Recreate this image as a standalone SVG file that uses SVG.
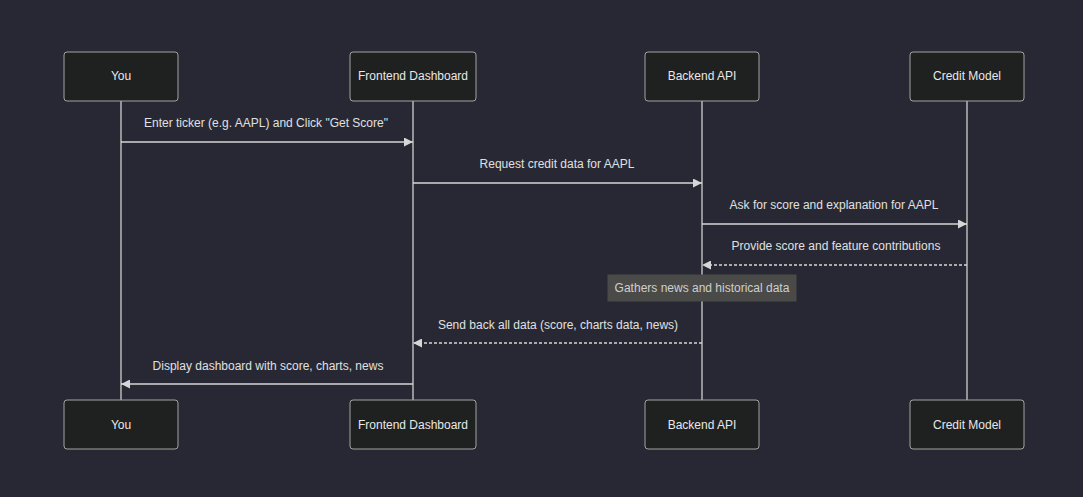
<svg xmlns="http://www.w3.org/2000/svg" width="1083" height="497" viewBox="0 0 1083 497">
<defs>
<style>
.bg{fill:#272833}
.actor rect{fill:#1f2020;stroke:#a3a3a3;stroke-width:1}
.actor text{fill:#e8e8e8;font-family:"Liberation Sans",Arial,sans-serif;font-size:12px;text-anchor:middle;dominant-baseline:central}
.life{stroke:#cfcfcf;stroke-width:1.3}
.msg{stroke:#d6d6d6;stroke-width:1.3;fill:none}
.dot{stroke-dasharray:3,2}
.lbl{fill:#e0e0e0;font-family:"Liberation Sans",Arial,sans-serif;font-size:12px;text-anchor:middle;dominant-baseline:central}
.note rect{fill:#4a4a48;stroke:#4a4a48}
.note text{fill:#cfcfcf;font-family:"Liberation Sans",Arial,sans-serif;font-size:12px;text-anchor:middle;dominant-baseline:central}
</style>
<marker id="ah" viewBox="0 0 10 10" refX="10" refY="5" markerWidth="9" markerHeight="9" markerUnits="userSpaceOnUse" orient="auto">
<path d="M0,0 L10,5 L0,10 z" fill="#d6d6d6"/>
</marker>
</defs>
<rect class="bg" x="0" y="0" width="1083" height="497"/>
<g id="lifelines">
<line class="life" x1="121" y1="101" x2="121" y2="400"/>
<line class="life" x1="413" y1="101" x2="413" y2="400"/>
<line class="life" x1="702" y1="101" x2="702" y2="400"/>
<line class="life" x1="967" y1="101" x2="967" y2="400"/>
</g>
<g id="actor-you-top" class="actor"><rect x="64" y="52" width="114" height="49" rx="3"/><text x="121" y="76">You</text></g>
<g id="actor-fe-top" class="actor"><rect x="350" y="52" width="126" height="49" rx="3"/><text x="413" y="76">Frontend Dashboard</text></g>
<g id="actor-be-top" class="actor"><rect x="645" y="52" width="114" height="49" rx="3"/><text x="702" y="76">Backend API</text></g>
<g id="actor-cm-top" class="actor"><rect x="910" y="52" width="114" height="49" rx="3"/><text x="967" y="76">Credit Model</text></g>
<g id="actor-you-bottom" class="actor"><rect x="64" y="400" width="114" height="49" rx="3"/><text x="121" y="425">You</text></g>
<g id="actor-fe-bottom" class="actor"><rect x="350" y="400" width="126" height="49" rx="3"/><text x="413" y="425">Frontend Dashboard</text></g>
<g id="actor-be-bottom" class="actor"><rect x="645" y="400" width="114" height="49" rx="3"/><text x="702" y="425">Backend API</text></g>
<g id="actor-cm-bottom" class="actor"><rect x="910" y="400" width="114" height="49" rx="3"/><text x="967" y="425">Credit Model</text></g>
<g id="note" class="note"><rect x="608" y="275" width="188" height="26"/><text x="702" y="288">Gathers news and historical data</text></g>
<g id="connectors">
<line class="msg" x1="121" y1="142" x2="413" y2="142" marker-end="url(#ah)"/>
<text class="lbl" x="266" y="123">Enter ticker (e.g. AAPL) and Click "Get Score"</text>
<line class="msg" x1="413" y1="183" x2="702" y2="183" marker-end="url(#ah)"/>
<text class="lbl" x="557" y="164">Request credit data for AAPL</text>
<line class="msg" x1="702" y1="224" x2="967" y2="224" marker-end="url(#ah)"/>
<text class="lbl" x="834" y="205">Ask for score and explanation for AAPL</text>
<line class="msg dot" x1="967" y1="265" x2="702" y2="265" marker-end="url(#ah)"/>
<text class="lbl" x="836" y="246">Provide score and feature contributions</text>
<line class="msg dot" x1="702" y1="343" x2="413" y2="343" marker-end="url(#ah)"/>
<text class="lbl" x="558" y="325">Send back all data (score, charts data, news)</text>
<line class="msg" x1="413" y1="384" x2="121" y2="384" marker-end="url(#ah)"/>
<text class="lbl" x="268" y="366">Display dashboard with score, charts, news</text>
</g>
</svg>
